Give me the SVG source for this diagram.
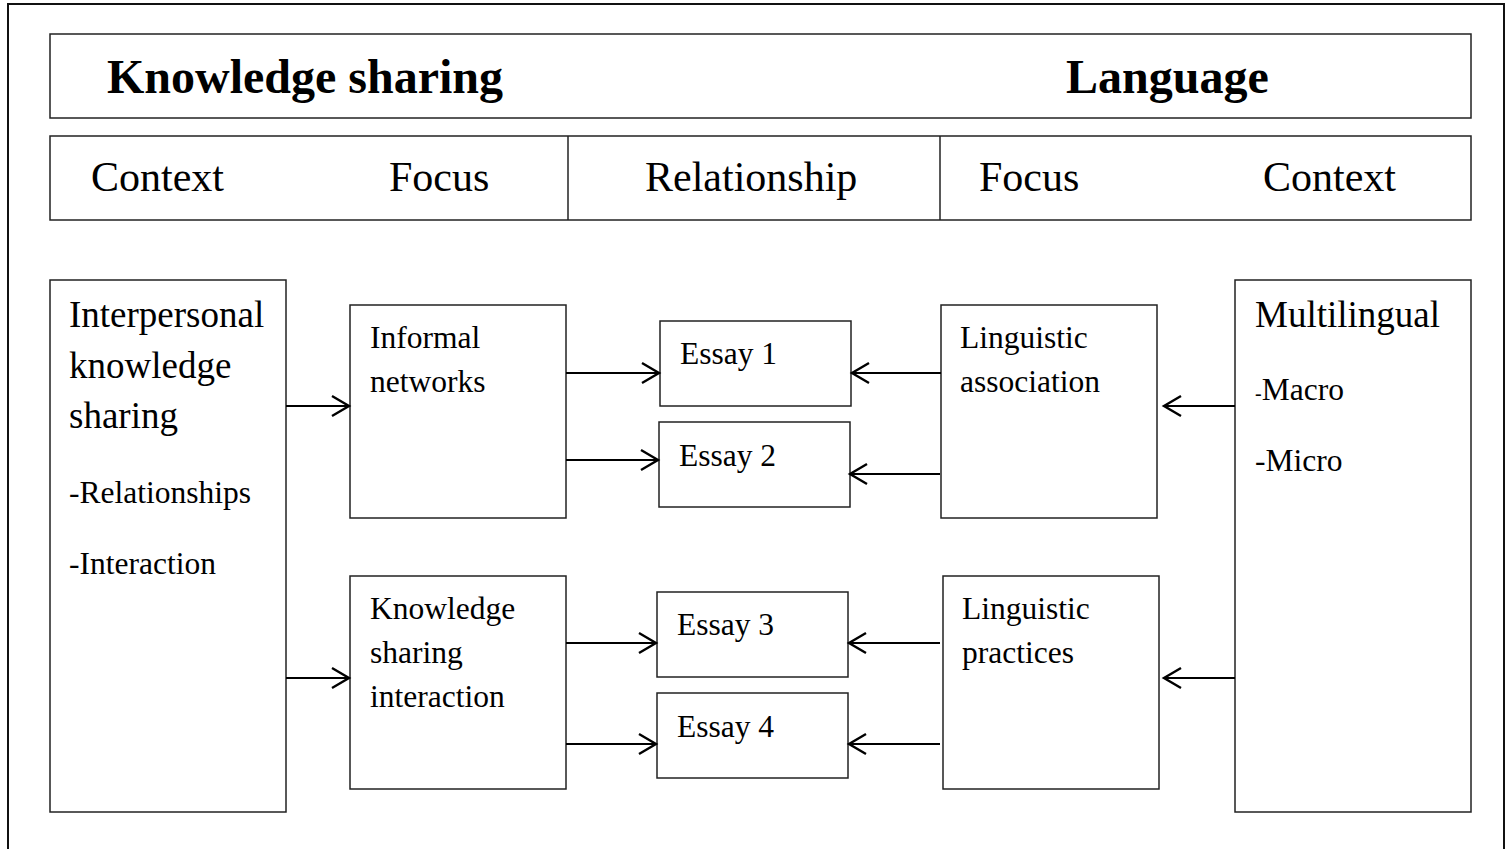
<svg xmlns="http://www.w3.org/2000/svg" width="1508" height="849" viewBox="0 0 1508 849">
<style>
.box{fill:#fff;stroke:#222;stroke-width:1.5}
.t{font-family:"Liberation Serif","Times New Roman",serif;fill:#000}
.h{font-size:48px;font-weight:bold}
.c{font-size:42px}
.b{font-size:37px}
.s{font-size:31.5px}
.conn line{stroke:#000;stroke-width:2.2;marker-end:url(#ah)}
</style>
<defs>
<marker id="ah" markerUnits="userSpaceOnUse" markerWidth="24" markerHeight="26" viewBox="-20 -13 24 26" refX="0" refY="0" orient="auto">
<path d="M-17,-10 L0,0 L-17,10" fill="none" stroke="#000" stroke-width="2.4"/>
</marker>
</defs>
<rect x="0" y="0" width="1508" height="849" fill="#fff"/>
<rect x="8" y="4" width="1496" height="860" fill="none" stroke="#111" stroke-width="2"/>

<g id="title">
<rect class="box" x="50" y="34" width="1421" height="84"/>
<text class="t h" x="107" y="93">Knowledge sharing</text>
<text class="t h" x="1066" y="93">Language</text>
</g>

<g id="header">
<rect class="box" x="50" y="136" width="1421" height="84"/>
<line x1="568" y1="136" x2="568" y2="220" stroke="#222" stroke-width="1.5"/>
<line x1="940" y1="136" x2="940" y2="220" stroke="#222" stroke-width="1.5"/>
<text class="t c" x="91" y="191">Context</text>
<text class="t c" x="389" y="191">Focus</text>
<text class="t c" x="645" y="191">Relationship</text>
<text class="t c" x="979" y="191">Focus</text>
<text class="t c" x="1263" y="191">Context</text>
</g>

<g id="interpersonal">
<rect class="box" x="50" y="280" width="236" height="532"/>
<text class="t b" x="69" y="327">Interpersonal</text>
<text class="t b" x="69" y="378">knowledge</text>
<text class="t b" x="69" y="428">sharing</text>
<text class="t s" x="69" y="503">-Relationships</text>
<text class="t s" x="69" y="574">-Interaction</text>
</g>

<g id="informal">
<rect class="box" x="350" y="305" width="216" height="213"/>
<text class="t s" x="370" y="348">Informal</text>
<text class="t s" x="370" y="392">networks</text>
</g>

<g id="ksi">
<rect class="box" x="350" y="576" width="216" height="213"/>
<text class="t s" x="370" y="619">Knowledge</text>
<text class="t s" x="370" y="663">sharing</text>
<text class="t s" x="370" y="707">interaction</text>
</g>

<g id="essay1">
<rect class="box" x="660" y="321" width="191" height="85"/>
<text class="t s" x="680" y="364">Essay 1</text>
</g>
<g id="essay2">
<rect class="box" x="659" y="422" width="191" height="85"/>
<text class="t s" x="679" y="466">Essay 2</text>
</g>
<g id="essay3">
<rect class="box" x="657" y="592" width="191" height="85"/>
<text class="t s" x="677" y="635">Essay 3</text>
</g>
<g id="essay4">
<rect class="box" x="657" y="693" width="191" height="85"/>
<text class="t s" x="677" y="737">Essay 4</text>
</g>

<g id="lingassoc">
<rect class="box" x="941" y="305" width="216" height="213"/>
<text class="t s" x="960" y="348">Linguistic</text>
<text class="t s" x="960" y="392">association</text>
</g>

<g id="lingprac">
<rect class="box" x="943" y="576" width="216" height="213"/>
<text class="t s" x="962" y="619">Linguistic</text>
<text class="t s" x="962" y="663">practices</text>
</g>

<g id="multilingual">
<rect class="box" x="1235" y="280" width="236" height="532"/>
<text class="t b" x="1255" y="327">Multilingual</text>
<text class="t s" x="1255" y="400"><tspan font-size="20px">-</tspan>Macro</text>
<text class="t s" x="1255" y="471">-Micro</text>
</g>

<g id="connectors" class="conn">
<line x1="286" y1="406" x2="349" y2="406"/>
<line x1="286" y1="678" x2="349" y2="678"/>
<line x1="566" y1="373" x2="659" y2="373"/>
<line x1="566" y1="460" x2="658" y2="460"/>
<line x1="566" y1="643" x2="656" y2="643"/>
<line x1="566" y1="744" x2="656" y2="744"/>
<line x1="941" y1="373" x2="852" y2="373"/>
<line x1="940" y1="474" x2="850" y2="474"/>
<line x1="940" y1="643" x2="849" y2="643"/>
<line x1="940" y1="744" x2="849" y2="744"/>
<line x1="1235" y1="406" x2="1164" y2="406"/>
<line x1="1235" y1="678" x2="1164" y2="678"/>
</g>
</svg>
